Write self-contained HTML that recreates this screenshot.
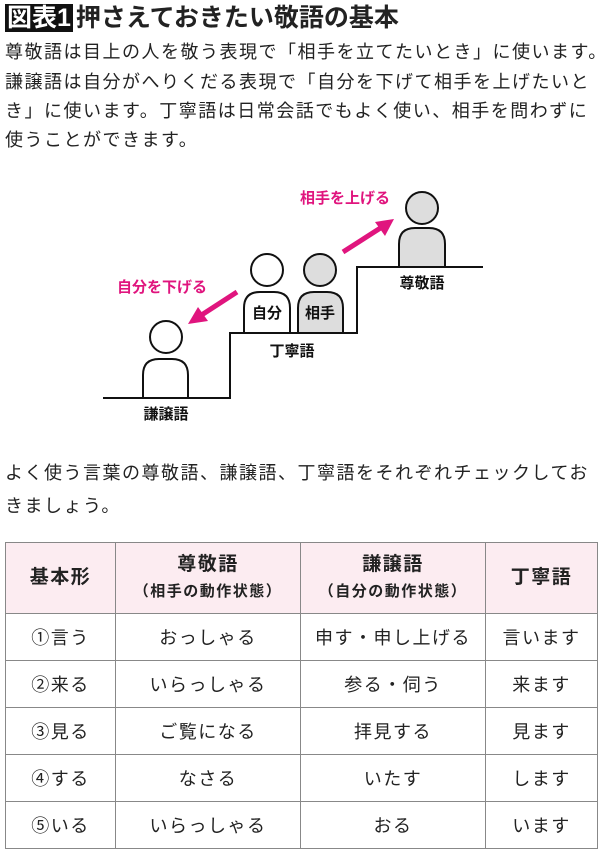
<!DOCTYPE html>
<html><head><meta charset="utf-8"><style>
*{margin:0;padding:0;box-sizing:border-box}
body{width:600px;height:859px;background:#fff;position:relative;overflow:hidden;font-family:"Liberation Sans","Noto Sans CJK JP",sans-serif;color:#222}
.l{position:absolute;left:5px;white-space:nowrap;font-size:18px;letter-spacing:1.5px;line-height:20px}
.t{position:absolute;left:5px;top:3px;white-space:nowrap;font-size:25px;font-weight:bold;line-height:31px}
.t span{background:#111;color:#fff;padding:0 2px;margin-right:3px}
table{position:absolute;left:5px;top:542px;width:592px;border-collapse:collapse;font-size:18px;table-layout:fixed}
td{border:1.5px solid #888;text-align:center;height:47px;letter-spacing:1.5px;white-space:nowrap}
tr.h td{background:#fcecf1;font-weight:bold;height:71px;line-height:26px;font-size:19px}
tr.h small{font-size:15px;font-weight:bold}
</style></head><body>
<div class="t"><span>図表1</span>押さえておきたい敬語の基本</div>
<div class="l" style="top:42px">尊敬語は目上の人を敬う表現で「相手を立てたいとき」に使います。</div>
<div class="l" style="top:72px">謙譲語は自分がへりくだる表現で「自分を下げて相手を上げたいと</div>
<div class="l" style="top:101px">き」に使います。丁寧語は日常会話でもよく使い、相手を問わずに</div>
<div class="l" style="top:130px">使うことができます。</div>
<svg style="position:absolute;left:0;top:0" width="600" height="440">
<g fill="none" stroke="#111" stroke-width="2">
<polyline points="103,398 230,398 230,333 357,333 357,267 483,267"/>
</g>
<g stroke="#111" stroke-width="2">
<circle cx="166" cy="337" r="16" fill="#fff"/>
<path d="M143,398 V375 Q143,359 159,359 H172 Q188,359 188,375 V398 Z" fill="#fff"/>
<circle cx="267" cy="270" r="16" fill="#fff"/>
<path d="M244,333 V308 Q244,292 260,292 H274 Q290,292 290,308 V333 Z" fill="#fff"/>
<circle cx="320" cy="270" r="16" fill="#ddd"/>
<path d="M298,333 V308 Q298,292 314,292 H327 Q343,292 343,308 V333 Z" fill="#ddd"/>
<circle cx="422" cy="208" r="16" fill="#ddd"/>
<path d="M399,267 V244 Q399,228 415,228 H429 Q445,228 445,244 V267 Z" fill="#ddd"/>
</g>
<g stroke="#e0157e" stroke-width="5" fill="#e0157e">
<line x1="237" y1="292" x2="200" y2="316"/>
<polygon points="188,324 198,307 208,321" stroke="none"/>
<line x1="343" y1="252" x2="382" y2="227"/>
<polygon points="394,219 385,236 375,222" stroke="none"/>
</g>
<g font-family="Liberation Sans,Noto Sans CJK JP,sans-serif" font-weight="bold" text-anchor="middle">
<text x="267" y="318" font-size="15" fill="#111">自分</text>
<text x="320" y="318" font-size="15" fill="#111">相手</text>
<text x="422" y="288" font-size="15" fill="#111">尊敬語</text>
<text x="292" y="356" font-size="15" fill="#111">丁寧語</text>
<text x="166" y="419" font-size="15" fill="#111">謙譲語</text>
<text x="162" y="292" font-size="15" fill="#e0157e">自分を下げる</text>
<text x="345" y="203" font-size="15" fill="#e0157e">相手を上げる</text>
</g>
</svg>
<div class="l" style="top:463px">よく使う言葉の尊敬語、謙譲語、丁寧語をそれぞれチェックしてお</div>
<div class="l" style="top:496px">きましょう。</div>
<table>
<colgroup><col style="width:110px"><col style="width:185px"><col style="width:185px"><col style="width:112px"></colgroup>
<tr class="h"><td>基本形</td><td>尊敬語<br><small>（相手の動作状態）</small></td><td>謙譲語<br><small>（自分の動作状態）</small></td><td>丁寧語</td></tr>
<tr><td>①言う</td><td>おっしゃる</td><td>申す・申し上げる</td><td>言います</td></tr>
<tr><td>②来る</td><td>いらっしゃる</td><td>参る・伺う</td><td>来ます</td></tr>
<tr><td>③見る</td><td>ご覧になる</td><td>拝見する</td><td>見ます</td></tr>
<tr><td>④する</td><td>なさる</td><td>いたす</td><td>します</td></tr>
<tr><td>⑤いる</td><td>いらっしゃる</td><td>おる</td><td>います</td></tr>
</table>
</body></html>
